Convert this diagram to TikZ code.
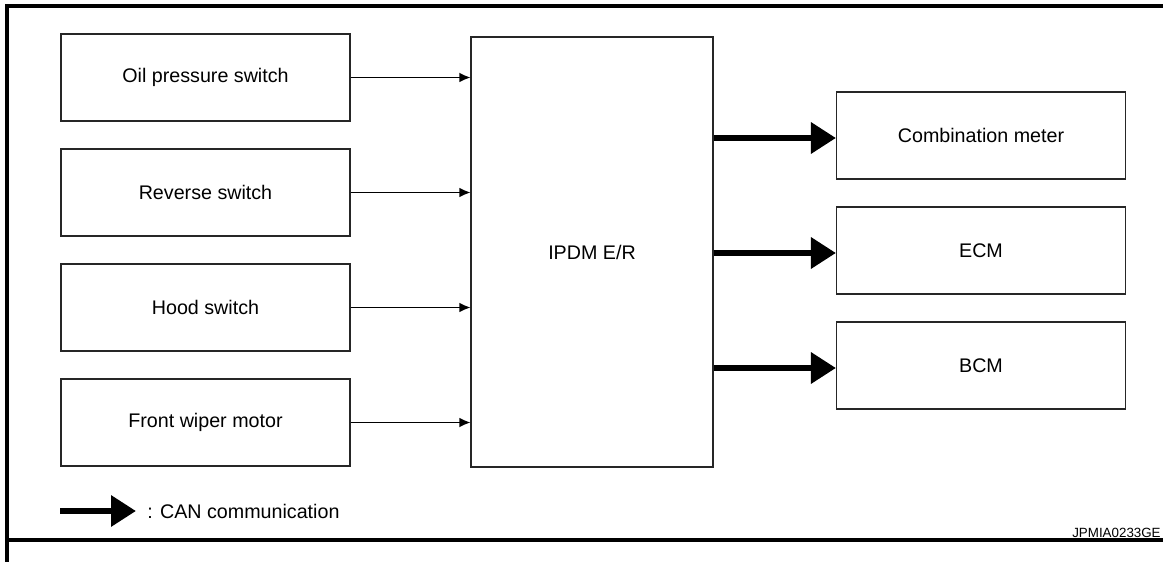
\documentclass[tikz,border=0pt]{standalone}
\usepackage{fontspec}
\setmainfont{Liberation Sans}
\usetikzlibrary{arrows.meta,positioning}

\begin{document}
\begin{tikzpicture}[x=1cm,y=1cm,font=\fontsize{11.2}{13}\selectfont,
  frame/.style={line width=2.3pt},
  unit/.style={draw=black!85,line width=.6pt,minimum width=5.78cm,
    minimum height=1.74cm,inner sep=0pt},
  sig/.style={-{Latex[length=2.2mm,width=1.9mm]},line width=.6pt},
  can/.style={-{Triangle[length=5mm,width=6mm]},line width=3.6pt}]
\useasboundingbox (0,0) rectangle (23.26,11.22);
\draw[frame] (23.4,11.10)--(0.14,11.10)--(0.14,-0.1);
\draw[frame] (0.14,0.42)--(23.4,0.42);
\node[unit] (oil) at (4.11,9.67) {Oil pressure switch};
\node[unit] (rev) at (4.11,7.37) {Reverse switch};
\node[unit] (hood) at (4.11,5.07) {Hood switch};
\node[unit] (wiper) at (4.11,2.77) {Front wiper motor};
\node[unit,minimum width=4.84cm,minimum height=8.60cm] (ipdm) at (11.84,6.18)
 {IPDM E/R};
\node[unit] (meter) at (19.62,8.51) {Combination meter};
\node[unit] (ecm) at (19.62,6.21) {ECM};
\node[unit] (bcm) at (19.62,3.91) {BCM};
\foreach \s in {oil,rev,hood,wiper}
 \draw[sig] (\s.east)--(ipdm.west |- \s.east);
\foreach \t in {meter,ecm,bcm}
 \draw[can] ([yshift=-.05cm]ipdm.east |- \t.west)--([yshift=-.05cm]\t.west);
\coordinate (leg) at (1.20,1.00);
\node[anchor=west,inner sep=0pt] (legtxt) at (2.94,1.00) {: CAN communication};
\draw[can] (leg)--([xshift=-.22cm]legtxt.west);
\node[anchor=base east,inner sep=0pt,font=\fontsize{7.6}{9}\selectfont] (code)
 at (23.22,0.48) {JPMIA0233GE};
\end{tikzpicture}
\end{document}
